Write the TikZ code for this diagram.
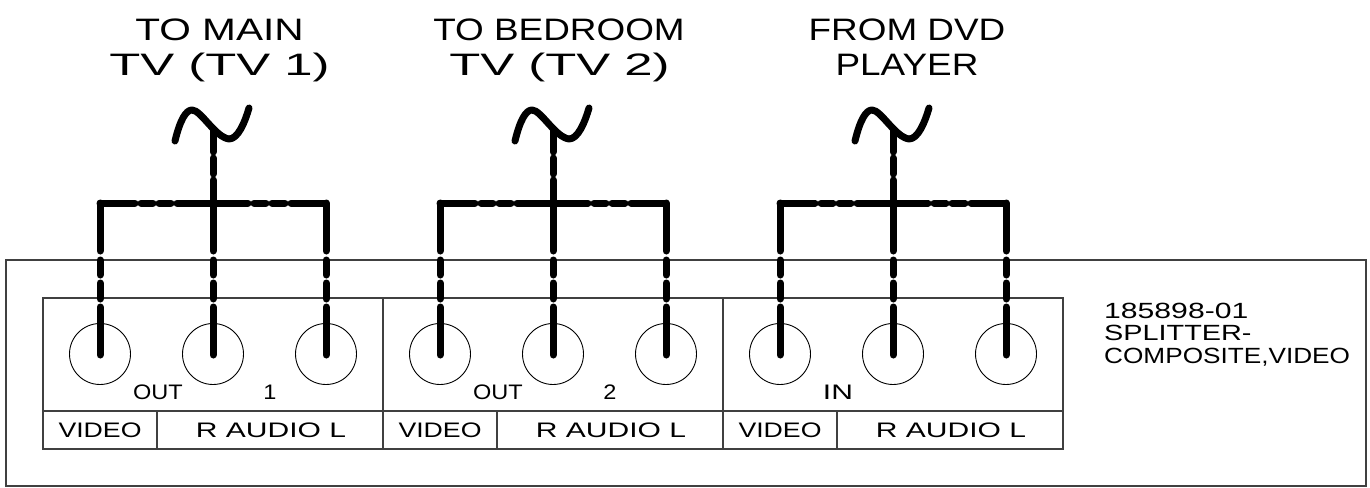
\documentclass[tikz,border=0pt]{standalone}
\usepackage{fontspec}
\setmainfont{Liberation Sans}
\newfontfamily\strA[FakeStretch=1.12]{Liberation Sans}
\newfontfamily\strB[FakeStretch=1.19]{Liberation Sans}
\newfontfamily\strC[FakeStretch=1.27]{Liberation Sans}
\newfontfamily\strD[FakeStretch=1.31]{Liberation Sans}
\newfontfamily\strE[FakeStretch=1.37]{Liberation Sans}
\newfontfamily\strF[FakeStretch=1.43]{Liberation Sans}
\newfontfamily\strG[FakeStretch=1.64]{Liberation Sans}
\tikzset{
  frame/.style={draw=black!75,line width=1.3pt},
  jack/.style={circle,draw=black,line width=0.9pt,minimum size=61pt,inner sep=0pt},
  wire/.style={draw=black,line width=7pt,line cap=round,line join=round},
  small label/.style={inner sep=0pt,anchor=base},
  side label/.style={inner sep=0pt,anchor=base west},
  title label/.style={inner sep=0pt,anchor=base}
}
\newcommand{\smallsz}{\fontsize{21}{21}\selectfont}
\newcommand{\sidesz}{\fontsize{22}{22}\selectfont}
\newcommand{\titlesz}{\fontsize{31}{31}\selectfont}
\begin{document}
\begin{tikzpicture}[x=1pt,y=-1pt]
\useasboundingbox (0,0) rectangle (1370,487);
\draw[frame] (6,260) rectangle (1366,486);
\draw[frame] (43,298) rectangle (1063,449);
\draw[frame] (43,411) -- (1063,411);
\foreach \i in {0,1,2}{
 \begin{scope}[xshift=\i*340pt]
  \draw[frame] (383,298) -- (383,449);
  \draw[frame] (157,411) -- (157,449);
  \node[jack] (a\i) at (100,354) {};
  \node[jack] (b\i) at (213,354) {};
  \node[jack] (c\i) at (326,354) {};
  \coordinate (bar\i) at (213,203);
  \coordinate (top\i) at (213,130);
  \foreach \n in {a,b,c}{
    \draw[wire] (\n\i.center) ++(0,1) -- ++(0,-48);
    \draw[wire] (\n\i.center) ++(0,-55) -- ++(0,-16);
    \draw[wire] (\n\i.center) ++(0,-79) -- ++(0,-15);
    \draw[wire] (\n\i.center) ++(0,-103) -- ++(0,-48);
  }
  \draw[wire] (a\i.center) ++(0,-151) -- ++(35,0);
  \draw[wire] (a\i.center) ++(0,-151) ++(41,0) -- ++(12,0);
  \draw[wire] (a\i.center) ++(0,-151) ++(59,0) -- ++(12,0);
  \draw[wire] (a\i.center) ++(0,-151) ++(77,0) -- ++(71,0);
  \draw[wire] (a\i.center) ++(0,-151) ++(154,0) -- ++(12,0);
  \draw[wire] (a\i.center) ++(0,-151) ++(172,0) -- ++(13,0);
  \draw[wire] (a\i.center) ++(0,-151) ++(191,0) -- (c\i.center |- bar\i);
  \draw[wire] (bar\i) -- ++(0,-23);
  \draw[wire] (bar\i) ++(0,-29) -- ++(0,-16);
  \draw[wire] (bar\i) ++(0,-51) -- (top\i);
  \draw[wire] (175,141) .. controls (180,120) and (186,110) .. (192,110)
     .. controls (201,110) and (215,137) .. (229,139)
     .. controls (238,139) and (245,122) .. (249,108);
  \node[small label,font=\strC\smallsz] (v\i) at (100,437) {VIDEO};
  \node[small label,font=\strF\smallsz] (r\i) at (271,437) {R AUDIO L};
 \end{scope}
}
\node[title label,font=\strD\titlesz] (t0) at (219.5,41) {TO MAIN};
\node[title label,font=\strG\titlesz] (u0) at (219.5,75) {TV (TV 1)};
\node[title label,font=\strB\titlesz] (t1) at (559,41) {TO BEDROOM};
\node[title label,font=\strG\titlesz] (u1) at (559.5,75) {TV (TV 2)};
\node[title label,font=\strB\titlesz] (t2) at (907,41) {FROM DVD};
\node[title label,font=\strB\titlesz] (u2) at (907,75) {PLAYER};
\node[small label,font=\strA\smallsz] (o1) at (158,399) {OUT};
\node[small label,font=\strA\smallsz] (n1) at (270,399) {1};
\node[small label,font=\strA\smallsz] (o2) at (498,399) {OUT};
\node[small label,font=\strA\smallsz] (n2) at (610,399) {2};
\node[small label,font=\strF\smallsz] (o3) at (838,399) {IN};
\node[side label,font=\strE\sidesz] (s1) at (1104,318) {185898-01};
\node[side label,font=\strD\sidesz] (s2) at (1104,340) {SPLITTER-};
\node[side label,font=\strB\sidesz] (s3) at (1104,363) {COMPOSITE,VIDEO};
\end{tikzpicture}
\end{document}
